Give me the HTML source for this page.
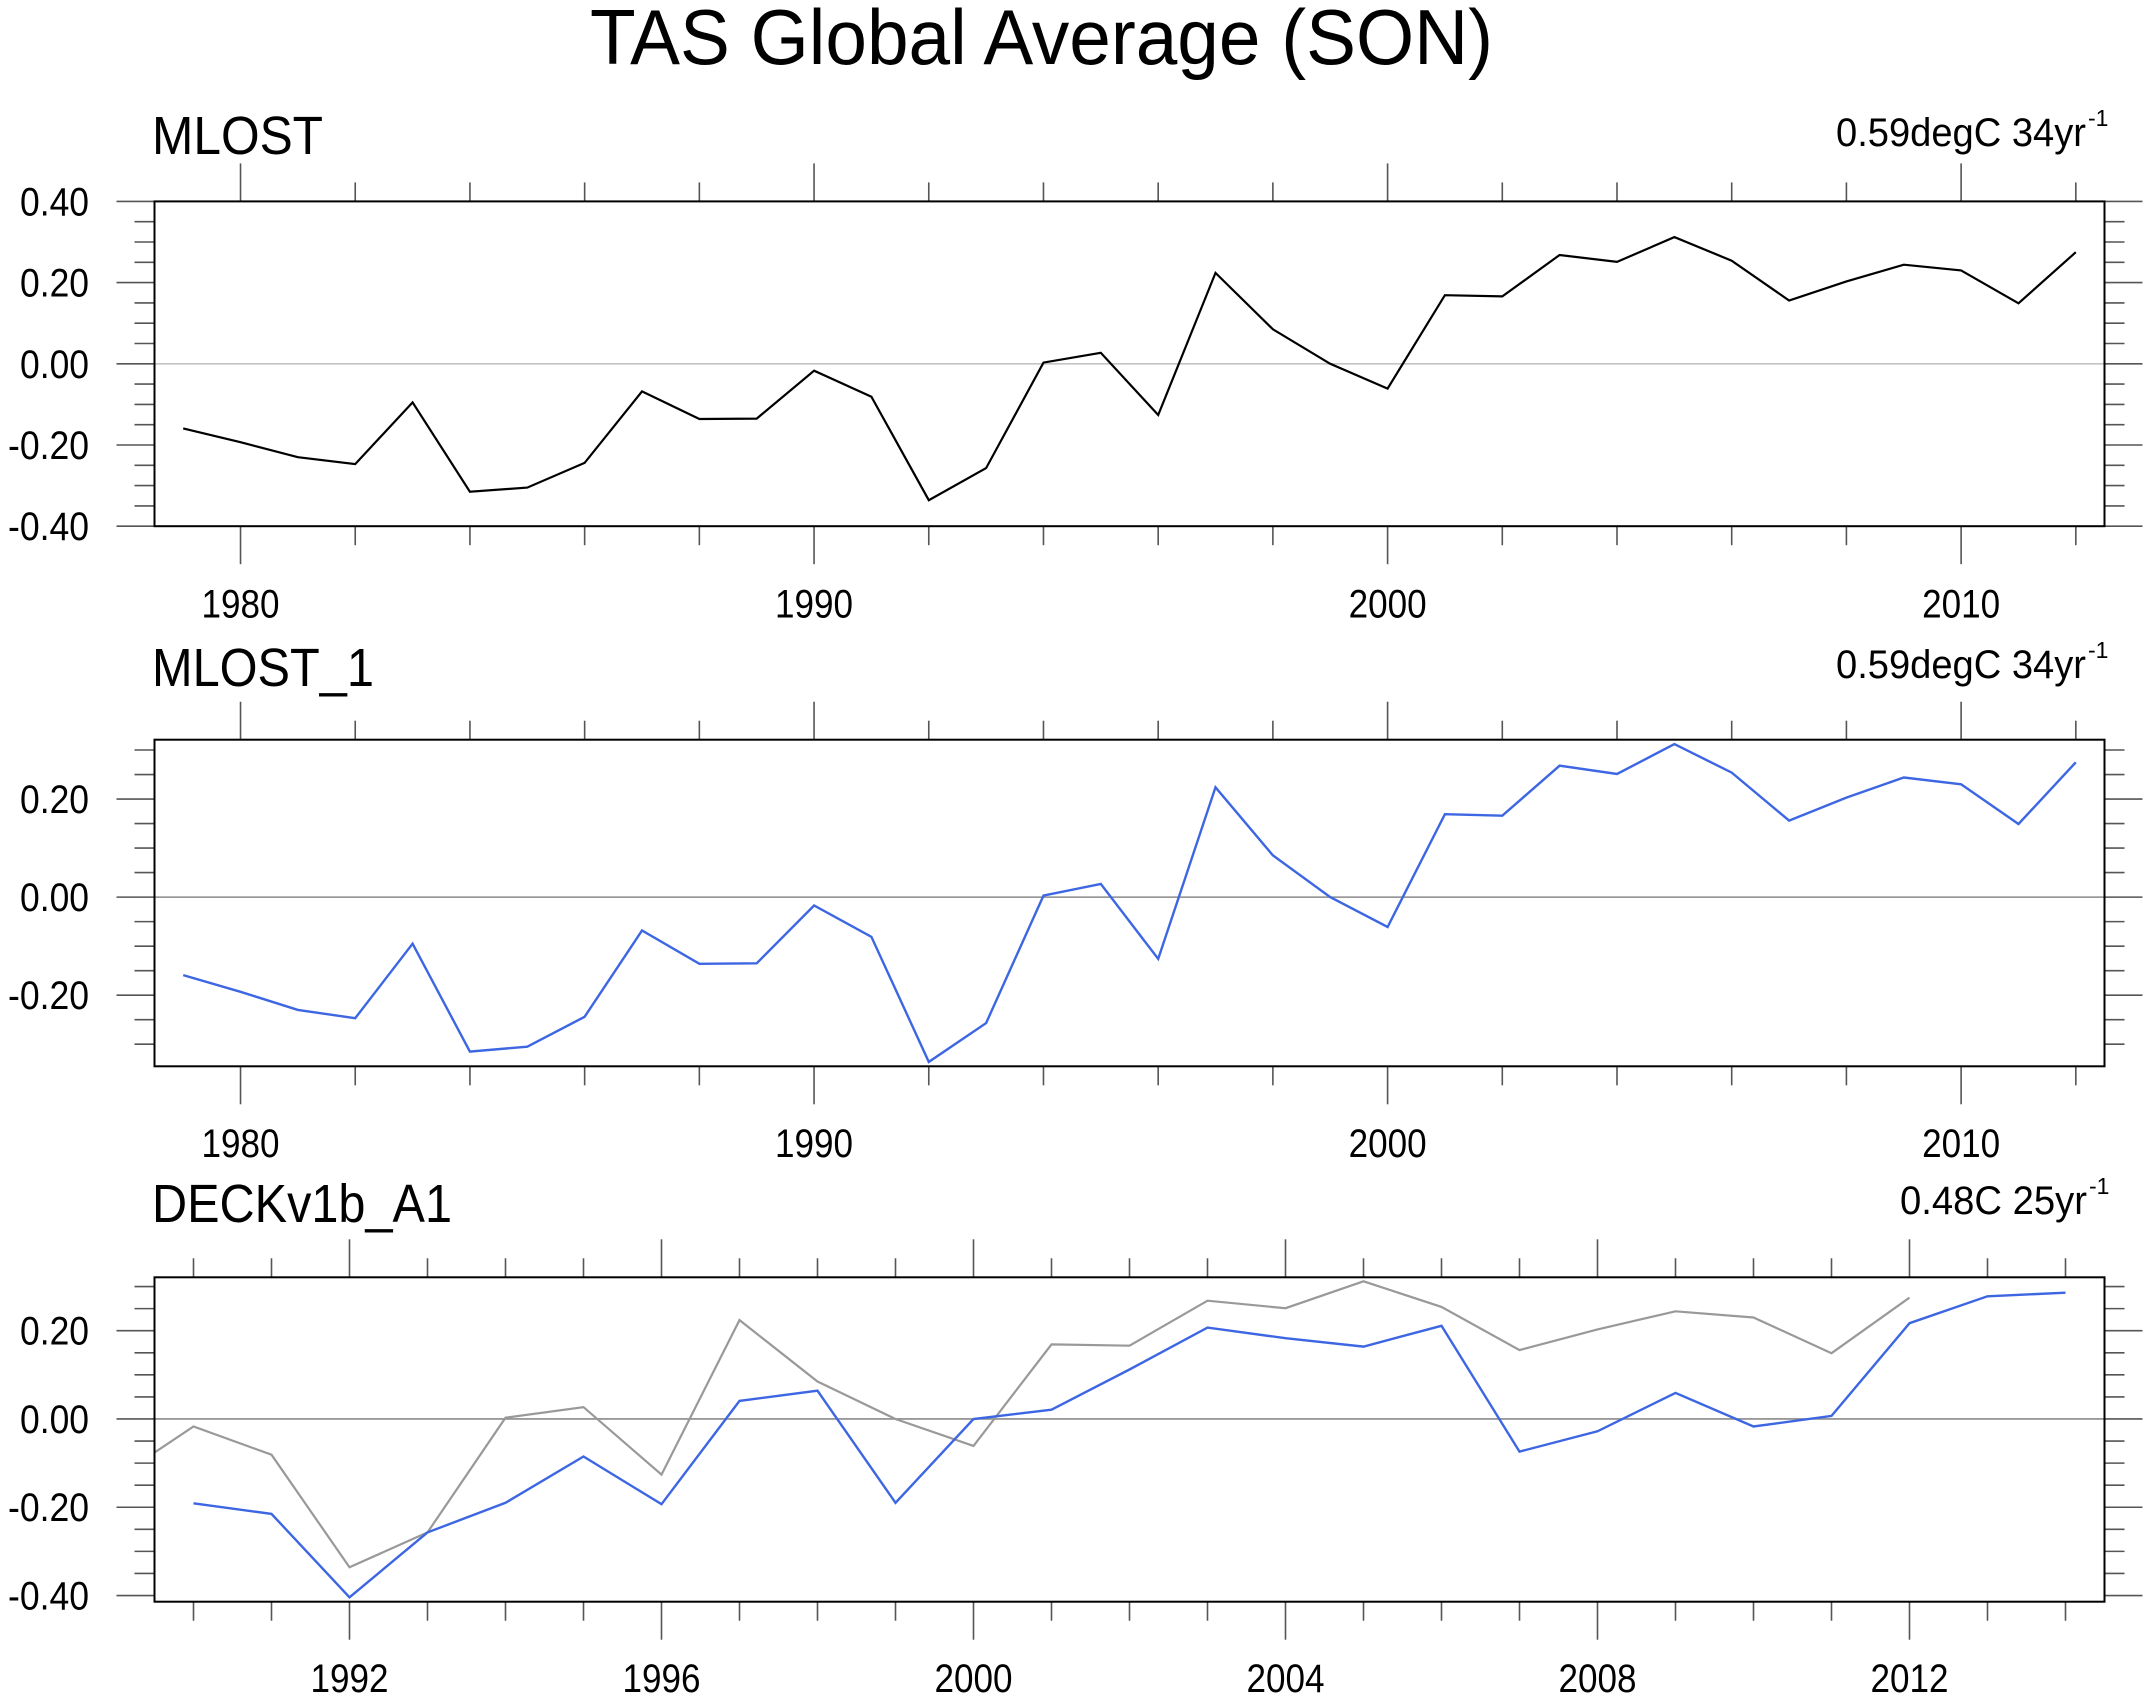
<!DOCTYPE html>
<html><head><meta charset="utf-8"><style>
html,body{margin:0;padding:0;background:#fff;}
svg{display:block;font-family:"Liberation Sans",Arial,sans-serif;}
</style></head><body>
<svg id="chart" width="2152" height="1703" viewBox="0 0 2152 1703" xmlns="http://www.w3.org/2000/svg">
<text x="590" y="64" font-size="78" textLength="903" lengthAdjust="spacingAndGlyphs">TAS Global Average (SON)</text>
</svg>
<script>
// ---- data ----
const mlostYears = [1979,1980,1981,1982,1983,1984,1985,1986,1987,1988,1989,1990,1991,1992,1993,1994,1995,1996,1997,1998,1999,2000,2001,2002,2003,2004,2005,2006,2007,2008,2009,2010,2011,2012];
const mlostValues = [-0.159,-0.193,-0.23,-0.247,-0.095,-0.315,-0.305,-0.244,-0.068,-0.136,-0.135,-0.017,-0.081,-0.336,-0.257,0.003,0.027,-0.126,0.224,0.085,0.0,-0.061,0.169,0.166,0.268,0.251,0.312,0.254,0.156,0.203,0.244,0.230,0.149,0.275];
const deckYears = [1990,1991,1992,1993,1994,1995,1996,1997,1998,1999,2000,2001,2002,2003,2004,2005,2006,2007,2008,2009,2010,2011,2012,2013,2014];
const deckValues = [-0.191,-0.215,-0.404,-0.257,-0.19,-0.085,-0.193,0.041,0.064,-0.19,0.0,0.021,0.112,0.207,0.183,0.164,0.211,-0.074,-0.028,0.059,-0.017,0.007,0.217,0.278,0.286];
const yTicksP1 = [0.4,0.2,0.0,-0.2,-0.4];
const yTicksP23 = [0.2,0.0,-0.2,-0.4];
const xMajorP12 = [1980,1990,2000,2010];
const xMajorP3 = [1992,1996,2000,2004,2008,2012];
const panelTitles = ["MLOST","MLOST_1","DECKv1b_A1"];
const panelRightLabels = ["0.59degC 34yr","0.59degC 34yr","0.48C 25yr"];

const svg = document.getElementById('chart');
const NS = 'http://www.w3.org/2000/svg';
function mk(tag, attrs, parent){
  const e = document.createElementNS(NS, tag);
  for (const k in attrs) e.setAttribute(k, attrs[k]);
  (parent||svg).appendChild(e);
  return e;
}

function drawPanel(p){
  const g = mk('g', {});
  
  
  const L = 154.5, R = 2104.5, T = p.top, B = p.bottom;
  const xs = v => L + (v - p.xmin) / (p.xmax - p.xmin) * (R - L);
  const ys = v => T + (p.ymax - v) / (p.ymax - p.ymin) * (B - T);
  const tickCol = '#555';
  for (let yr = Math.ceil(p.xmin); yr <= p.xmax; yr++) {
    const major = p.xMajor.includes(yr);
    const minor = (yr - p.xMajor[0]) % p.xMinorStep === 0;
    if (!major && !minor) continue;
    const x = xs(yr);
    const len = major ? 38 : 19;
    const t1 = mk('line', {x1:x, x2:x, y1:T-len, y2:T, stroke:tickCol, 'stroke-width':1.6}, g);
    
    
    const t2 = mk('line', {x1:x, x2:x, y1:B, y2:B+len, stroke:tickCol, 'stroke-width':1.6}, g);
    
    
    if (major) {
      const lab = mk('text', {x:x-39, y:p.yearBase, 'font-size':40, textLength:78, lengthAdjust:'spacingAndGlyphs'}, g);
      lab.textContent = yr;
      
      
    }
  }
  const start = Math.floor(p.ymax / 0.05) * 0.05;
  for (let v = start; v >= p.ymin - 1e-9; v -= 0.05) {
    const vv = Math.round(v * 100) / 100;
    const major = Math.abs(Math.round(vv * 100) % 20) === 0;
    const y = ys(vv);
    const len = major ? 38 : 20;
    const a = mk('line', {x1:L-len, x2:L, y1:y, y2:y, stroke:tickCol, 'stroke-width':1.6}, g);
    
    
    const b = mk('line', {x1:R, x2:R+len, y1:y, y2:y, stroke:tickCol, 'stroke-width':1.6}, g);
    
    
  }
  p.yTicks.forEach(v => {
    const txt = v.toFixed(2);
    const w = txt.startsWith('-') ? 81 : 69;
    const lab = mk('text', {x:89 - w, y:ys(v)+14, 'font-size':40, textLength:w, lengthAdjust:'spacingAndGlyphs'}, g);
    lab.textContent = txt;
    
    
  });
  const z = mk('line', {x1:L, x2:R, y1:ys(0), y2:ys(0), stroke:p.zeroCol, 'stroke-width':1.6}, g);
  
  
  const cid = 'clip-' + p.key;
  const cp = mk('clipPath', {id:cid}, g);
  mk('rect', {x:L, y:T, width:R-L, height:B-T}, cp);
  p.series.forEach(s => {
    const pts = s.years.map((yr, i) => xs(yr).toFixed(1) + ',' + ys(s.values[i]).toFixed(1)).join(' ');
    const pl = mk('polyline', {points:pts, fill:'none', stroke:s.color, 'stroke-width':s.width, 'stroke-linejoin':'miter', 'clip-path':'url(#'+cid+')'}, g);
    
    
  });
  const fr = mk('rect', {x:L, y:T, width:R-L, height:B-T, fill:'none', stroke:'#000', 'stroke-width':2}, g);
  
  
  const tt = mk('text', {x:152, y:p.titleBase, 'font-size':54, textLength:p.titleW, lengthAdjust:'spacingAndGlyphs'}, g);
  tt.textContent = p.title;
  
  
  const rl = mk('text', {x:p.rlX, y:p.titleBase - 8, 'font-size':40, textLength:p.rlW, lengthAdjust:'spacingAndGlyphs'}, g);
  rl.textContent = p.right;
  
  
  const sup = mk('text', {x:p.rlX + p.rlW + 2, y:p.titleBase - 28, 'font-size':23}, g);
  sup.textContent = '-1';
  
  
}

drawPanel({key:'mlost', top:201.4, bottom:526.2, ymin:-0.4, ymax:0.4, xmin:1978.5, xmax:2012.5,
  xMajor:xMajorP12, xMinorStep:2, yTicks:yTicksP1, yearBase:617.5, titleBase:154, zeroCol:'#c4c4c4',
  title:panelTitles[0], titleW:171, right:panelRightLabels[0], rlX:1836, rlW:250,
  series:[{name:'mlost-line', years:mlostYears, values:mlostValues, color:'#000', width:2.2}]});
drawPanel({key:'mlost-1', top:739.7, bottom:1066.3, ymin:-0.345, ymax:0.321, xmin:1978.5, xmax:2012.5,
  xMajor:xMajorP12, xMinorStep:2, yTicks:yTicksP23.slice(0,3), yearBase:1157, titleBase:686, zeroCol:'#8a8a8a',
  title:panelTitles[1], titleW:222, right:panelRightLabels[1], rlX:1836, rlW:250,
  series:[{name:'mlost-1-line', years:mlostYears, values:mlostValues, color:'#3d66e3', width:2.4}]});
drawPanel({key:'deck', top:1277.3, bottom:1601.7, ymin:-0.414, ymax:0.321, xmin:1989.5, xmax:2014.5,
  xMajor:xMajorP3, xMinorStep:1, yTicks:yTicksP23, yearBase:1692, titleBase:1222, zeroCol:'#8a8a8a',
  title:panelTitles[2], titleW:300, right:panelRightLabels[2], rlX:1900, rlW:187,
  series:[{name:'mlost-reference-line', years:mlostYears, values:mlostValues, color:'#999', width:2.2},
          {name:'deck-line', years:deckYears, values:deckValues, color:'#3d66e3', width:2.4}]});
</script>
</body></html>
